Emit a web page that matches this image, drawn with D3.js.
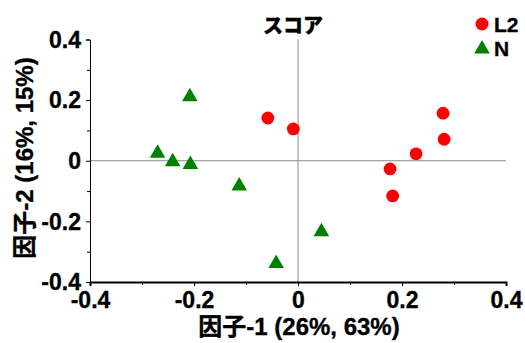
<!DOCTYPE html>
<html>
<head>
<meta charset="utf-8">
<script src="https://cdn.jsdelivr.net/npm/d3@7"></script>
<style>
  html, body { margin: 0; padding: 0; background: #fff; }
  svg { display: block; }
  text { font-family: "Liberation Sans", Arial, "Noto Sans CJK JP", sans-serif; font-weight: 700; fill: #000; stroke: #000; stroke-width: 0.35px; }
</style>
</head>
<body>
<svg id="chart" width="525" height="343"></svg>
<script>
// Score plot: factor 1 vs factor 2
const seriesNames = ["L2", "N"];
const l2X = [-0.058, -0.009, 0.279, 0.281, 0.227, 0.177, 0.182];
const l2Y = [0.141, 0.105, 0.157, 0.071, 0.023, -0.027, -0.116];
const nX = [-0.208, -0.270, -0.241, -0.207, -0.113, -0.042, 0.045];
const nY = [0.211, 0.025, -0.003, -0.012, -0.083, -0.339, -0.234];

const majorTicks = [-0.4, -0.2, 0, 0.2, 0.4];
const minorTicks = [-0.3, -0.1, 0.1, 0.3];
const tickLabels = ["-0.4", "-0.2", "0", "0.2", "0.4"];

const chartTitle = "スコア";
const xTitle = "因子-1 (26%, 63%)";
const yTitle = "因子-2 (16%, 15%)";

const colors = { L2: "#ff0000", N: "#008000" };

const svg = d3.select("#chart");
const plotL = 90, plotR = 506, plotT = 39.5, plotB = 282;

const x = d3.scaleLinear().domain([-0.4, 0.4]).range([plotL, plotR]);
const y = d3.scaleLinear().domain([-0.4, 0.4]).range([plotB, plotT]);

const labelOf = v => tickLabels[majorTicks.indexOf(v)];

// zero reference lines
svg.append("line").attr("x1", x(0)).attr("x2", x(0)).attr("y1", plotT).attr("y2", plotB)
  .attr("stroke", "#888").attr("stroke-width", 1);
svg.append("line").attr("x1", plotL).attr("x2", plotR).attr("y1", y(0)).attr("y2", y(0))
  .attr("stroke", "#888").attr("stroke-width", 1);

// y axis
const yAxis = svg.append("g").attr("transform", `translate(${plotL},0)`)
  .call(d3.axisLeft(y).tickValues(majorTicks).tickFormat(labelOf).tickSize(4).tickPadding(5));
yAxis.selectAll(".tick text").style("font-size", "23px").attr("dy", "0.34em");
svg.append("g").attr("transform", `translate(${plotL},0)`)
  .call(d3.axisLeft(y).tickValues(minorTicks).tickFormat("").tickSize(3))
  .select(".domain").remove();

// x axis
const xAxis = svg.append("g").attr("transform", `translate(0,${plotB})`)
  .call(d3.axisBottom(x).tickValues(majorTicks).tickFormat(labelOf).tickSize(4).tickPadding(6));
xAxis.selectAll(".tick text").style("font-size", "23px");
xAxis.select(".domain").attr("stroke-width", 2);
svg.append("g").attr("transform", `translate(0,${plotB})`)
  .call(d3.axisBottom(x).tickValues(minorTicks).tickFormat("").tickSize(3))
  .select(".domain").remove();
svg.selectAll(".domain").attr("stroke", "#000");
svg.selectAll(".tick line").attr("stroke", "#000");

// markers
const triangle = d3.symbol().type(d3.symbolTriangle).size(105);
const l2 = l2X.map((v, i) => ({ x: v, y: l2Y[i] }));
const nn = nX.map((v, i) => ({ x: v, y: nY[i] }));

svg.append("g").selectAll("circle").data(l2).join("circle")
  .attr("cx", d => x(d.x)).attr("cy", d => y(d.y)).attr("r", 6.4)
  .attr("fill", colors.L2);
svg.append("g").selectAll("path").data(nn).join("path")
  .attr("d", triangle).attr("transform", d => `translate(${x(d.x)},${y(d.y)})`)
  .attr("fill", colors.N);

// titles
svg.append("text").attr("x", 293).attr("y", 33).attr("text-anchor", "middle")
  .style("font-family", "'Noto Sans CJK JP', sans-serif").style("font-weight", 900)
  .style("font-size", "20px").text(chartTitle);
svg.append("text").attr("x", 299).attr("y", 335).attr("text-anchor", "middle")
  .style("font-size", "24px").text(xTitle);
svg.append("text").attr("transform", "translate(33,158) rotate(-90)").attr("text-anchor", "middle")
  .style("font-size", "24px").text(yTitle);

// legend
const legend = svg.append("g");
seriesNames.forEach((name, i) => {
  const cy = 24 + i * 24;
  if (name === "L2") {
    legend.append("circle").attr("cx", 482).attr("cy", cy).attr("r", 6.5).attr("fill", colors[name]);
  } else {
    legend.append("path").attr("d", triangle).attr("transform", `translate(482,${cy + 1})`).attr("fill", colors[name]);
  }
  legend.append("text").attr("x", 494).attr("y", cy + 8).style("font-size", "21px").text(name);
});
</script>
</body>
</html>
